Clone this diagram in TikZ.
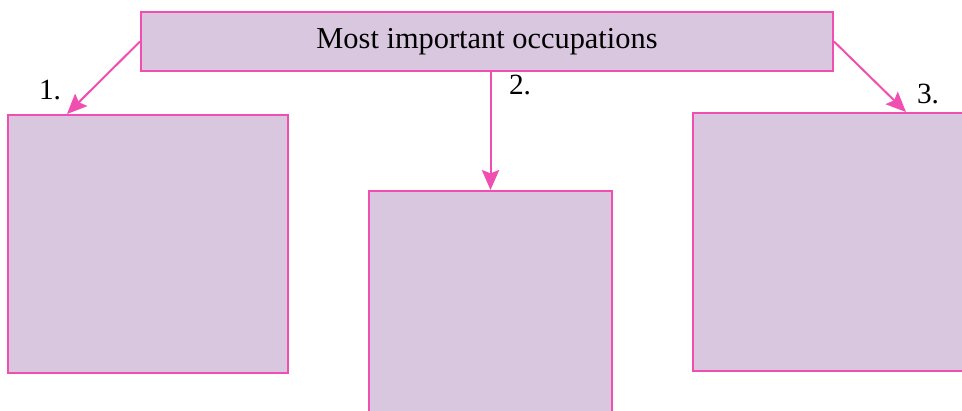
\documentclass[tikz,border=0pt]{standalone}
\usepackage{fontspec}
\setmainfont{Liberation Serif}
\usetikzlibrary{arrows.meta, calc}
\definecolor{boxfill}{RGB}{217,199,223}
\definecolor{boxline}{RGB}{240,78,176}
\tikzstyle{box} = [rectangle, draw=boxline, fill=boxfill, line width=1.5pt, inner sep=0pt]
\tikzstyle{arrow} = [draw=boxline, line width=1.5pt, -{Stealth[length=15pt, width=13pt, inset=2.5pt]}]
\tikzstyle{num} = [font=\fontsize{22}{25}\selectfont, inner sep=0pt]

\begin{document}
\begin{tikzpicture}[x=0.75pt, y=-0.75pt]
    \useasboundingbox (0,0) rectangle (962,410);
    \node (main) [box, minimum width=519pt, minimum height=44.25pt, font=\fontsize{22.8}{26}\selectfont] at (487,41.5) {Most important occupations};
    \node (first) [box, minimum width=210pt, minimum height=193.5pt] at (148,244) {};
    \node (second) [box, minimum width=182.25pt, minimum height=187.5pt] at (490.5,316) {};
    \node (third) [box, minimum width=215.25pt, minimum height=193.5pt] at (836.5,242) {};

    \node (one) [num] at (50,90) {1.};
    \node (two) [num] at (520,85) {2.};
    \node (three) [num] at (928,94) {3.};

    \draw [arrow] (main.west) -- ($(first.north west)+(60,0)$);
    \draw [arrow] (second.north |- main.south) -- (second.north);
    \draw [arrow] (main.east) -- ($(third.north west)+(214,0)$);
\end{tikzpicture}
\end{document}
